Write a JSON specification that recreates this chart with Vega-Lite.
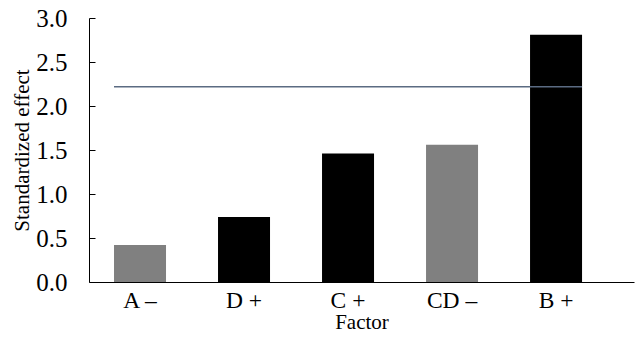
{
  "$schema": "https://vega.github.io/schema/vega-lite/v6.json",
  "width": 545,
  "height": 264,
  "autosize": {"type": "none"},
  "padding": {"left": 89, "top": 18, "right": 1, "bottom": 62},
  "background": "white",
  "config": {
    "view": {"stroke": null},
    "font": "Liberation Serif",
    "axis": {"labelFont": "Liberation Serif", "titleFont": "Liberation Serif", "labelColor": "black", "titleColor": "black", "domainColor": "black", "tickColor": "black", "grid": false, "titleFontWeight": "normal"}
  },
  "datasets": {
    "effects": [
      {"factor": "A –", "effect": 0.42, "sign": "neg"},
      {"factor": "D +", "effect": 0.74, "sign": "pos"},
      {"factor": "C +", "effect": 1.46, "sign": "pos"},
      {"factor": "CD –", "effect": 1.56, "sign": "neg"},
      {"factor": "B +", "effect": 2.81, "sign": "pos"}
    ],
    "threshold": [
      {"from": "A –", "to": "B +", "t": 2.22}
    ]
  },
  "layer": [
    {
      "data": {"name": "effects"},
      "mark": {"type": "bar"},
      "encoding": {
        "x": {
          "field": "factor", "type": "nominal", "sort": null,
          "scale": {"domain": ["A –", "D +", "C +", "CD –", "B +"], "paddingInner": 0.5, "paddingOuter": 0.37, "align": 0.325},
          "axis": {"title": "Factor", "labelAngle": 0, "labelFontSize": 23.5, "titleFontSize": 21, "ticks": false, "labelPadding": 6, "titlePadding": 0, "domainWidth": 1}
        },
        "y": {
          "field": "effect", "type": "quantitative",
          "scale": {"domain": [0, 3], "nice": false},
          "axis": {"title": "Standardized effect", "values": [0, 0.25, 0.5, 0.75, 1, 1.25, 1.5, 1.75, 2, 2.25, 2.5, 2.75, 3], "labelExpr": "(datum.value * 2) % 1 == 0 ? format(datum.value, '.1f') : ''", "tickSize": -6, "labelPadding": 28, "labelFontSize": 25, "titleFontSize": 21, "titlePadding": 3}
        },
        "color": {
          "field": "sign", "type": "nominal",
          "scale": {"domain": ["neg", "pos"], "range": ["#808080", "#000000"]},
          "legend": null
        }
      }
    },
    {
      "data": {"name": "threshold"},
      "mark": {"type": "rule", "color": "#5b6b82", "strokeWidth": 1.5},
      "encoding": {
        "x": {"field": "from", "type": "nominal", "bandPosition": 0},
        "x2": {"field": "to", "bandPosition": 1},
        "y": {"field": "t", "type": "quantitative"}
      }
    }
  ]
}
